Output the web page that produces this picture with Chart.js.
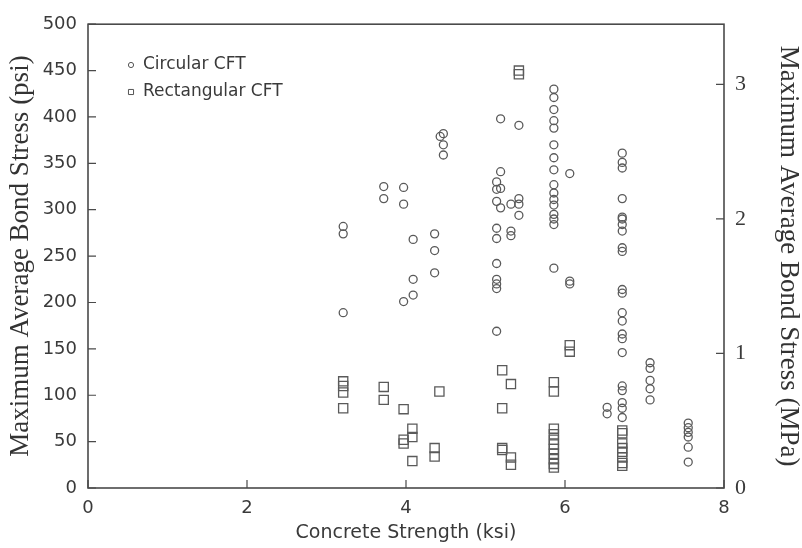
<!DOCTYPE html>
<html lang="en">
<head>
<meta charset="UTF-8">
<title>Bond stress vs concrete strength</title>
<script src="https://cdn.jsdelivr.net/npm/chart.js"></script>
<style>
  body { margin: 0; background: #fff; }
  #wrap { width: 802px; height: 548px; }
</style>
</head>
<body>
<div id="wrap"><canvas id="grafico"></canvas></div>
<script>
// Circular CFT: concrete strength (ksi) and max bond stress (psi)
var circularKsi = [
  3.21, 3.21, 3.21,
  3.72, 3.72,
  3.97, 3.97, 3.97,
  4.09, 4.09, 4.09,
  4.36, 4.36, 4.36,
  4.47, 4.43, 4.47, 4.47,
  5.14, 5.14, 5.14, 5.14, 5.14, 5.14, 5.14, 5.14, 5.14, 5.14,
  5.19, 5.19, 5.19, 5.19,
  5.32, 5.32, 5.32,
  5.42, 5.42, 5.42, 5.42,
  5.86, 5.86, 5.86, 5.86, 5.86, 5.86, 5.86, 5.86, 5.86, 5.86, 5.86, 5.86, 5.86, 5.86, 5.86, 5.86,
  6.06, 6.06, 6.06,
  6.53, 6.53,
  6.72, 6.72, 6.72, 6.72, 6.72, 6.72, 6.72, 6.72, 6.72, 6.72, 6.72,
  6.72, 6.72, 6.72, 6.72, 6.72, 6.72, 6.72, 6.72, 6.72, 6.72, 6.72,
  7.07, 7.07, 7.07, 7.07, 7.07,
  7.55, 7.55, 7.55, 7.55, 7.55, 7.55
];
var circularPsi = [
  282, 274, 189,
  325, 312,
  324, 306, 201,
  268, 225, 208,
  274, 256, 232,
  382, 379, 370, 359,
  330, 322, 309, 280, 269, 242, 225, 220, 215, 169,
  398, 341, 323, 302,
  306, 277, 272,
  391, 312, 306, 294,
  430, 421, 408, 396, 388, 370, 356, 343, 327, 318, 311, 305, 295, 290, 284, 237,
  339, 223, 220,
  87, 80,
  361, 351, 345, 312, 292, 290, 284, 277, 259, 255, 214,
  210, 189, 180, 166, 161, 146, 110, 105, 92, 86, 76,
  135, 129, 116, 107, 95,
  70, 65, 60, 55, 44, 28
];

// Rectangular CFT
var rectangularKsi = [
  3.21, 3.21, 3.21, 3.21,
  3.72, 3.72,
  3.97, 3.97, 3.97,
  4.08, 4.08, 4.08,
  4.42,
  4.36, 4.36,
  5.21, 5.21, 5.21, 5.21,
  5.32, 5.32, 5.32,
  5.42, 5.42,
  5.86, 5.86, 5.86, 5.86, 5.86, 5.86, 5.86, 5.86, 5.86, 5.86, 5.86,
  6.06, 6.06,
  6.72, 6.72, 6.72, 6.72, 6.72, 6.72, 6.72, 6.72
];
var rectangularPsi = [
  115, 110, 103, 86,
  109, 95,
  85, 52, 48,
  64, 55, 29,
  104,
  43, 34,
  127, 86, 43, 41,
  112, 33, 25,
  450, 446,
  114, 104, 64, 58, 52, 47, 42, 37, 31, 26, 22,
  154, 147,
  62, 59, 48, 43, 39, 33, 27, 24
];

var serieNomes = ['Circular CFT', 'Rectangular CFT'];
var psiPorMPa = 145.038;

function pares(xs, ys) {
  var lista = [];
  for (var i = 0; i < xs.length; i++) lista.push({ x: xs[i], y: ys[i] });
  return lista;
}

var corTraco = '#4a4a4a';
var corTexto = '#3a3a3a';

// box around the plot + inward tick marks
var moldura = {
  id: 'moldura',
  beforeDatasetsDraw: function (chart) {
    var ctx = chart.ctx, a = chart.chartArea;
    ctx.save();
    ctx.strokeStyle = corTraco;
    ctx.lineWidth = 1.6;
    ctx.strokeRect(a.left, a.top, a.right - a.left, a.bottom - a.top);
    ctx.lineWidth = 1.2;
    ctx.beginPath();
    chart.scales.x.ticks.forEach(function (t) {
      var px = chart.scales.x.getPixelForValue(t.value);
      ctx.moveTo(px, a.bottom); ctx.lineTo(px, a.bottom - 8);
    });
    chart.scales.y.ticks.forEach(function (t) {
      var py = chart.scales.y.getPixelForValue(t.value);
      ctx.moveTo(a.left, py); ctx.lineTo(a.left + 8, py);
    });
    chart.scales.y2.ticks.forEach(function (t) {
      var py = chart.scales.y2.getPixelForValue(t.value);
      ctx.moveTo(a.right, py); ctx.lineTo(a.right - 8, py);
    });
    ctx.stroke();
    ctx.restore();
  }
};

// small legend inside the plot, top left
var legendaDentro = {
  id: 'legendaDentro',
  afterDraw: function (chart) {
    var ctx = chart.ctx;
    var estilos = ['circle', 'rect'];
    var raios = [2.6, 3.6];
    ctx.save();
    ctx.font = '17px "DejaVu Sans"';
    ctx.textBaseline = 'middle';
    for (var i = 0; i < serieNomes.length; i++) {
      var y = 65 + i * 27;
      ctx.strokeStyle = '#555';
      ctx.fillStyle = 'rgba(255,255,255,0)';
      ctx.lineWidth = 1;
      Chart.helpers.drawPoint(ctx, {
        pointStyle: estilos[i], radius: raios[i], rotation: 0, borderWidth: 1
      }, 131, y);
      ctx.fillStyle = corTexto;
      ctx.fillText(serieNomes[i], 143, y);
    }
    ctx.restore();
  }
};

const ctx = document.getElementById('grafico');

new Chart(ctx, {
  type: 'scatter',
  data: {
    datasets: [{
      label: serieNomes[0],
      data: pares(circularKsi, circularPsi),
      pointStyle: 'circle',
      pointRadius: 4,
      borderColor: '#5a5a5a',
      backgroundColor: 'rgba(255,255,255,0)',
      borderWidth: 1.3
    }, {
      label: serieNomes[1],
      data: pares(rectangularKsi, rectangularPsi),
      pointStyle: 'rect',
      pointRadius: 6.5,
      borderColor: '#5a5a5a',
      backgroundColor: 'rgba(255,255,255,0)',
      borderWidth: 1.3
    }]
  },
  options: {
    responsive: true,
    maintainAspectRatio: false,
    animation: false,
    layout: { padding: { top: 22, left: 0, right: 0, bottom: 0 } },
    plugins: {
      legend: { display: false },
      tooltip: { enabled: false }
    },
    scales: {
      x: {
        type: 'linear',
        min: 0, max: 8,
        afterFit: function (s) { s.height = 60; },
        grid: { display: false, drawTicks: false },
        border: { display: false },
        ticks: { stepSize: 2, padding: 10, color: corTexto, font: { family: 'DejaVu Sans', size: 18 } },
        title: {
          display: true, text: 'Concrete Strength (ksi)', color: corTexto,
          font: { family: 'DejaVu Sans', size: 19 }, padding: { top: 0, bottom: 4 }
        }
      },
      y: {
        type: 'linear',
        position: 'left',
        min: 0, max: 500,
        afterFit: function (s) { s.width = 88; },
        grid: { display: false, drawTicks: false },
        border: { display: false },
        ticks: { stepSize: 50, padding: 11, color: corTexto, font: { family: 'DejaVu Sans', size: 18 } },
        title: {
          display: true, text: 'Maximum Average Bond Stress (psi)', color: '#333',
          font: { family: 'Liberation Serif', size: 27, lineHeight: 1.2 }, padding: { top: 5, bottom: 0 }
        }
      },
      y2: {
        type: 'linear',
        position: 'right',
        min: 0, max: 500 / psiPorMPa,
        afterFit: function (s) { s.width = 78; },
        grid: { display: false, drawTicks: false },
        border: { display: false },
        ticks: { stepSize: 1, includeBounds: false, padding: 11, color: corTexto, font: { family: 'Liberation Serif', size: 22 } },
        title: {
          display: true, text: 'Maximum Average Bond Stress (MPa)', color: '#333',
          font: { family: 'Liberation Serif', size: 27, lineHeight: 1.0 }, padding: { top: 0, bottom: 0 }
        }
      }
    }
  },
  plugins: [moldura, legendaDentro]
});
</script>
</body>
</html>
